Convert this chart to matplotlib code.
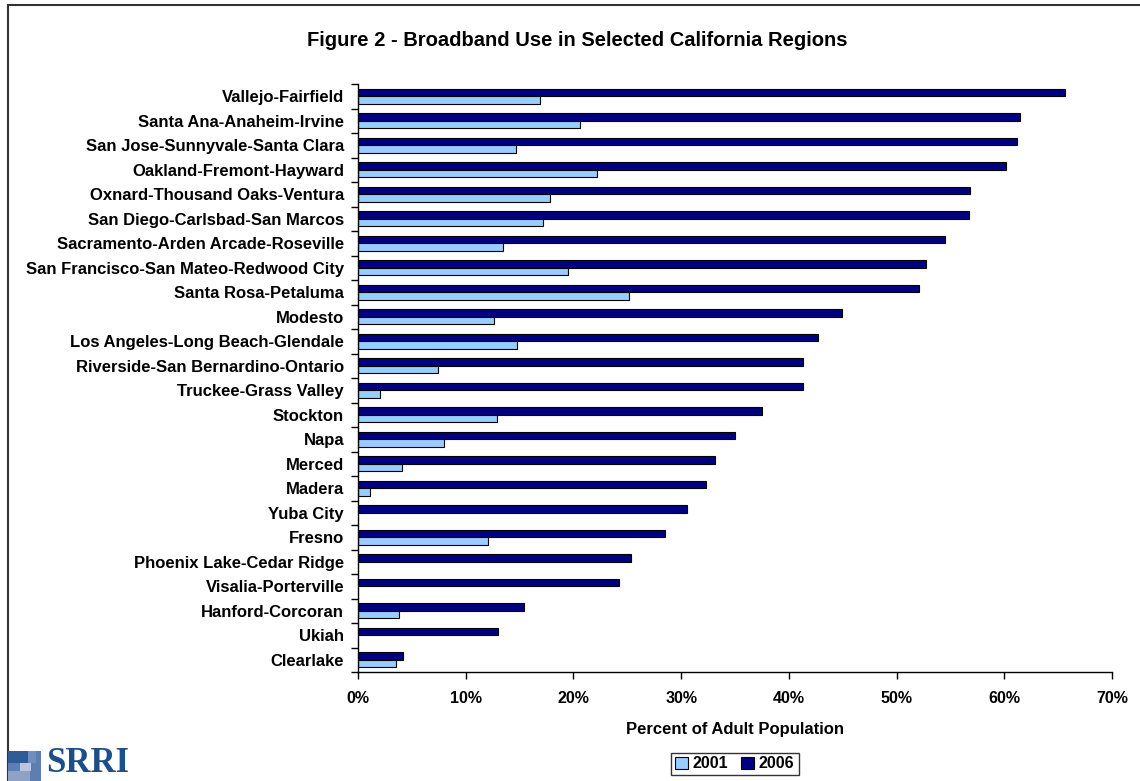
import numpy as np
import matplotlib
matplotlib.use("Agg")
import matplotlib.pyplot as plt
from matplotlib.patches import Rectangle

plt.rcParams['font.family'] = ['Liberation Sans', 'DejaVu Sans']

regions = ["Vallejo-Fairfield", "Santa Ana-Anaheim-Irvine", "San Jose-Sunnyvale-Santa Clara",
           "Oakland-Fremont-Hayward", "Oxnard-Thousand Oaks-Ventura", "San Diego-Carlsbad-San Marcos",
           "Sacramento-Arden Arcade-Roseville", "San Francisco-San Mateo-Redwood City",
           "Santa Rosa-Petaluma", "Modesto", "Los Angeles-Long Beach-Glendale",
           "Riverside-San Bernardino-Ontario", "Truckee-Grass Valley", "Stockton", "Napa",
           "Merced", "Madera", "Yuba City", "Fresno", "Phoenix Lake-Cedar Ridge",
           "Visalia-Porterville", "Hanford-Corcoran", "Ukiah", "Clearlake"]
use_2006 = [65.6, 61.5, 61.2, 60.2, 56.8, 56.7, 54.5, 52.7, 52.1, 44.9, 42.7, 41.3,
            41.3, 37.5, 35.0, 33.1, 32.3, 30.5, 28.5, 25.3, 24.2, 15.4, 13.0, 4.2]
use_2001 = [16.9, 20.6, 14.7, 22.2, 17.8, 17.2, 13.5, 19.5, 25.2, 12.6, 14.8, 7.4,
            2.0, 12.9, 8.0, 4.1, 1.1, np.nan, 12.1, np.nan, np.nan, 3.8, np.nan, 3.5]
tick_vals = [0, 10, 20, 30, 40, 50, 60, 70]

fig = plt.figure(figsize=(11.4, 7.81), dpi=100)
ax = fig.add_axes([358/1140, 1-672/781, (1112-358)/1140, (672-84)/781])

y = np.arange(len(regions))
h = 0.31
ax.barh(y - h/2, use_2006, height=h, color="#000080", edgecolor="black", linewidth=0.8, label="2006")
ax.barh(y + h/2, use_2001, height=h, color="#99CCFF", edgecolor="black", linewidth=0.8, label="2001")

ax.set_ylim(len(regions) - 0.5, -0.5)
ax.set_xlim(0, 70)
ax.set_yticks(y)
ax.set_yticklabels(regions, fontsize=12, fontweight="bold")
ax.set_yticks(np.arange(len(regions) + 1) - 0.5, minor=True)
ax.tick_params(axis="y", which="major", length=0, pad=10)
ax.tick_params(axis="y", which="minor", length=5, direction="out", width=1)
ax.set_xticks(tick_vals)
ax.set_xticklabels([f"{v}%" for v in tick_vals], fontsize=11.5, fontweight="bold")
ax.tick_params(axis="x", length=5, direction="out", width=1, pad=9)
for s in ["top", "right"]:
    ax.spines[s].set_visible(False)
for s in ["left", "bottom"]:
    ax.spines[s].set_linewidth(1)
ax.set_xlabel("Percent of Adult Population", fontsize=12, fontweight="bold", labelpad=11)

fig.text(577/1140, 1-41/781, "Figure 2 - Broadband Use in Selected California Regions",
         ha="center", va="center", fontsize=14.5, fontweight="bold")

handles, labels = ax.get_legend_handles_labels()
leg = fig.legend(handles[::-1], labels[::-1], loc="center", bbox_to_anchor=(735/1140, 1-764/781),
                 ncol=2, frameon=True, fancybox=False, edgecolor="black", handlelength=0.8,
                 handleheight=0.8, handletextpad=0.3, columnspacing=0.8, borderpad=0.25,
                 prop={"size": 11.5, "weight": "bold"})
leg.get_frame().set_linewidth(1)

# outer chart border
fig.patches.append(Rectangle((8/1140, -0.01), 1.1, 1 - 5/781 + 0.01, transform=fig.transFigure,
                             fill=False, edgecolor="#333333", linewidth=1.5))

# SRRI logo blocks
def px_rect(x0, y0, x1, y1, c):
    fig.patches.append(Rectangle((x0/1140, 1-y1/781), (x1-x0)/1140, (y1-y0)/781,
                                 transform=fig.transFigure, color=c, linewidth=0))

px_rect(8, 751, 41, 781, "#5E7DB0")
px_rect(8, 751, 28, 763, "#2F5B97")
px_rect(28, 751, 36, 763, "#6F8DBE")
px_rect(20, 763, 31, 771, "#BAC6DF")
px_rect(8, 771, 30, 781, "#8EA2C8")
fig.text(46/1140, 1-780/781, "SRRI", ha="left", va="bottom", fontsize=25, fontweight="bold",
         family=["Liberation Serif", "DejaVu Serif"], color="#1C4E8A")

fig.savefig("out.png", dpi=100)
